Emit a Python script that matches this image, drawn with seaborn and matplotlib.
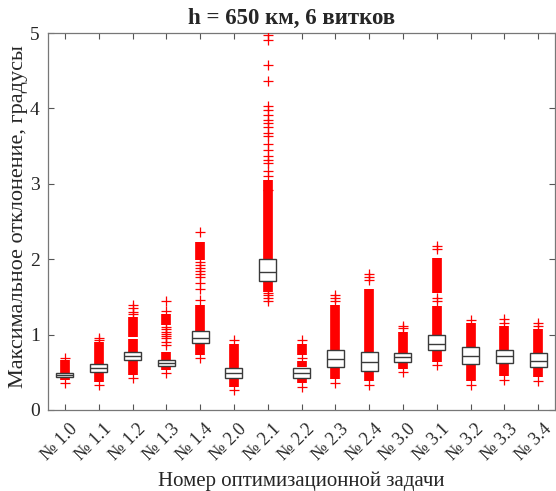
import matplotlib
matplotlib.use("Agg")
import matplotlib.pyplot as plt
import matplotlib.transforms as mtransforms
import seaborn as sns
import pandas as pd

categories = ["№ 1.0", "№ 1.1", "№ 1.2", "№ 1.3", "№ 1.4",
              "№ 2.0", "№ 2.1", "№ 2.2", "№ 2.3", "№ 2.4",
              "№ 3.0", "№ 3.1", "№ 3.2", "№ 3.3", "№ 3.4"]

# box statistics (lower quartile, median, upper quartile)
q1 =  [0.440, 0.500, 0.660, 0.590, 0.885, 0.430, 1.710, 0.430, 0.575, 0.520, 0.640, 0.800, 0.605, 0.620, 0.565]
med = [0.465, 0.553, 0.716, 0.625, 0.960, 0.490, 1.825, 0.490, 0.670, 0.630, 0.700, 0.880, 0.715, 0.710, 0.645]
q3 =  [0.487, 0.606, 0.765, 0.660, 1.045, 0.553, 2.003, 0.555, 0.800, 0.770, 0.760, 0.995, 0.830, 0.790, 0.750]

# densely packed observations that merge into solid red columns
dense_cat = ["№ 1.0", "№ 1.1", "№ 1.2", "№ 1.2", "№ 1.3", "№ 1.3", "№ 1.4", "№ 1.4",
             "№ 2.0", "№ 2.1", "№ 2.1", "№ 2.2", "№ 2.2", "№ 2.2",
             "№ 2.3", "№ 2.4", "№ 3.0", "№ 3.1", "№ 3.1", "№ 3.2", "№ 3.3", "№ 3.4"]
dense_lo = [0.40, 0.37, 0.47, 0.97, 0.53, 1.13, 0.73, 1.99,
            0.30, 1.57, 2.00, 0.355, 0.565, 0.73,
            0.41, 0.38, 0.54, 0.64, 1.55, 0.38, 0.45, 0.44]
dense_hi = [0.66, 0.90, 0.94, 1.24, 0.77, 1.27, 1.39, 2.23,
            0.88, 1.71, 3.05, 0.43, 0.655, 0.87,
            1.39, 1.61, 1.04, 1.38, 2.01, 1.16, 1.12, 1.07]

# individual observations drawn as separate '+' marks
point_cat = (["№ 1.0"] * 2 + ["№ 1.1"] * 3 + ["№ 1.2"] * 5 + ["№ 1.3"] * 11 +
             ["№ 1.4"] * 11 + ["№ 2.0"] * 2 + ["№ 2.1"] * 24 + ["№ 2.2"] * 3 +
             ["№ 2.3"] * 4 + ["№ 2.4"] * 4 + ["№ 3.0"] * 3 + ["№ 3.1"] * 5 +
             ["№ 3.2"] * 2 + ["№ 3.3"] * 3 + ["№ 3.4"] * 3)
point_val = ([0.69, 0.36] +
             [0.93, 0.96, 0.33] +
             [1.27, 1.30, 1.35, 1.39, 0.43] +
             [1.45, 1.31, 1.10, 1.07, 1.04, 1.01, 0.98, 0.95, 0.90, 0.86, 0.49] +
             [2.36, 1.96, 1.92, 1.88, 1.85, 1.81, 1.77, 1.69, 1.61, 1.46, 0.69] +
             [0.93, 0.26] +
             [4.97, 4.91, 4.58, 4.36, 4.03, 3.98, 3.91, 3.85, 3.80, 3.75, 3.67, 3.63,
              3.53, 3.45, 3.37, 3.32, 3.28, 3.17, 3.10, 2.92, 1.55, 1.52, 1.48, 1.45] +
             [0.93, 0.69, 0.31] +
             [1.52, 1.48, 1.45, 0.36] +
             [1.81, 1.77, 1.73, 0.33] +
             [1.12, 1.09, 0.50] +
             [2.18, 2.14, 1.49, 1.45, 0.60] +
             [1.20, 0.33] +
             [1.21, 1.16, 0.40] +
             [1.15, 1.12, 0.39])

yticks = [0, 1, 2, 3, 4, 5]
title = "h = 650 км, 6 витков"
xlabel = "Номер оптимизационной задачи"
ylabel = "Максимальное отклонение, градусы"

sns.set_theme(style="white")
plt.rcParams["font.family"] = ["Liberation Serif", "DejaVu Serif"]

pos = {c: i + 1 for i, c in enumerate(categories)}

fig = plt.figure(figsize=(5.56, 4.91), dpi=100)
ax = fig.add_axes([48 / 556, 81 / 491, (555 - 48) / 556, (410 - 33) / 491])

red = "#ff0000"
ax.vlines([pos[c] for c in dense_cat], dense_lo, dense_hi, colors=red,
          linewidth=7.0, capstyle="butt", zorder=2)

pts = pd.DataFrame({"x": [pos[c] for c in point_cat], "y": point_val})
sns.scatterplot(data=pts, x="x", y="y", marker="+", s=45, color=red,
                linewidth=0.9, ax=ax, zorder=3, legend=False)

stats = [dict(q1=a, med=m, q3=b, whislo=a, whishi=b, fliers=[])
         for a, m, b in zip(q1, med, q3)]
ax.bxp(stats, positions=list(range(1, len(categories) + 1)), widths=0.5,
       patch_artist=True, showcaps=False, showfliers=False,
       boxprops=dict(facecolor="white", edgecolor="#3a3a3a", linewidth=1.0),
       medianprops=dict(color="#3a3a3a", linewidth=1.0),
       whiskerprops=dict(linewidth=0), manage_ticks=False, zorder=4)

ax.set_xlim(0.5, 15.5)
ax.set_ylim(0, 5)
ax.set_yticks(yticks)
ax.set_yticklabels([str(t) for t in yticks], fontsize=14)
ax.set_xticks(list(range(1, len(categories) + 1)))
ax.set_xticklabels(categories, rotation=45, ha="right", va="center",
                   rotation_mode="anchor", fontsize=13)
ax.tick_params(direction="in", length=4, width=0.8, color="#555555",
               top=True, right=True, bottom=True, left=True, pad=6)
ax.tick_params(axis="x", pad=12)
shift = mtransforms.ScaledTranslation(7.5 / 72, 0, fig.dpi_scale_trans)
for lab in ax.get_xticklabels():
    lab.set_transform(lab.get_transform() + shift)
for s in ax.spines.values():
    s.set_color("#777777")
    s.set_linewidth(0.9)

ax.set_xlabel(xlabel, fontsize=15)
ax.xaxis.set_label_coords(0.5, -0.163)
ax.set_ylabel(ylabel, fontsize=16)
ax.yaxis.set_label_coords(-0.040, 0.513)
fig.text(292 / 556, 1 - 18 / 491, title, ha="center", va="center",
         fontsize=16.5, fontweight="bold")

fig.savefig("out.png", dpi=100)
